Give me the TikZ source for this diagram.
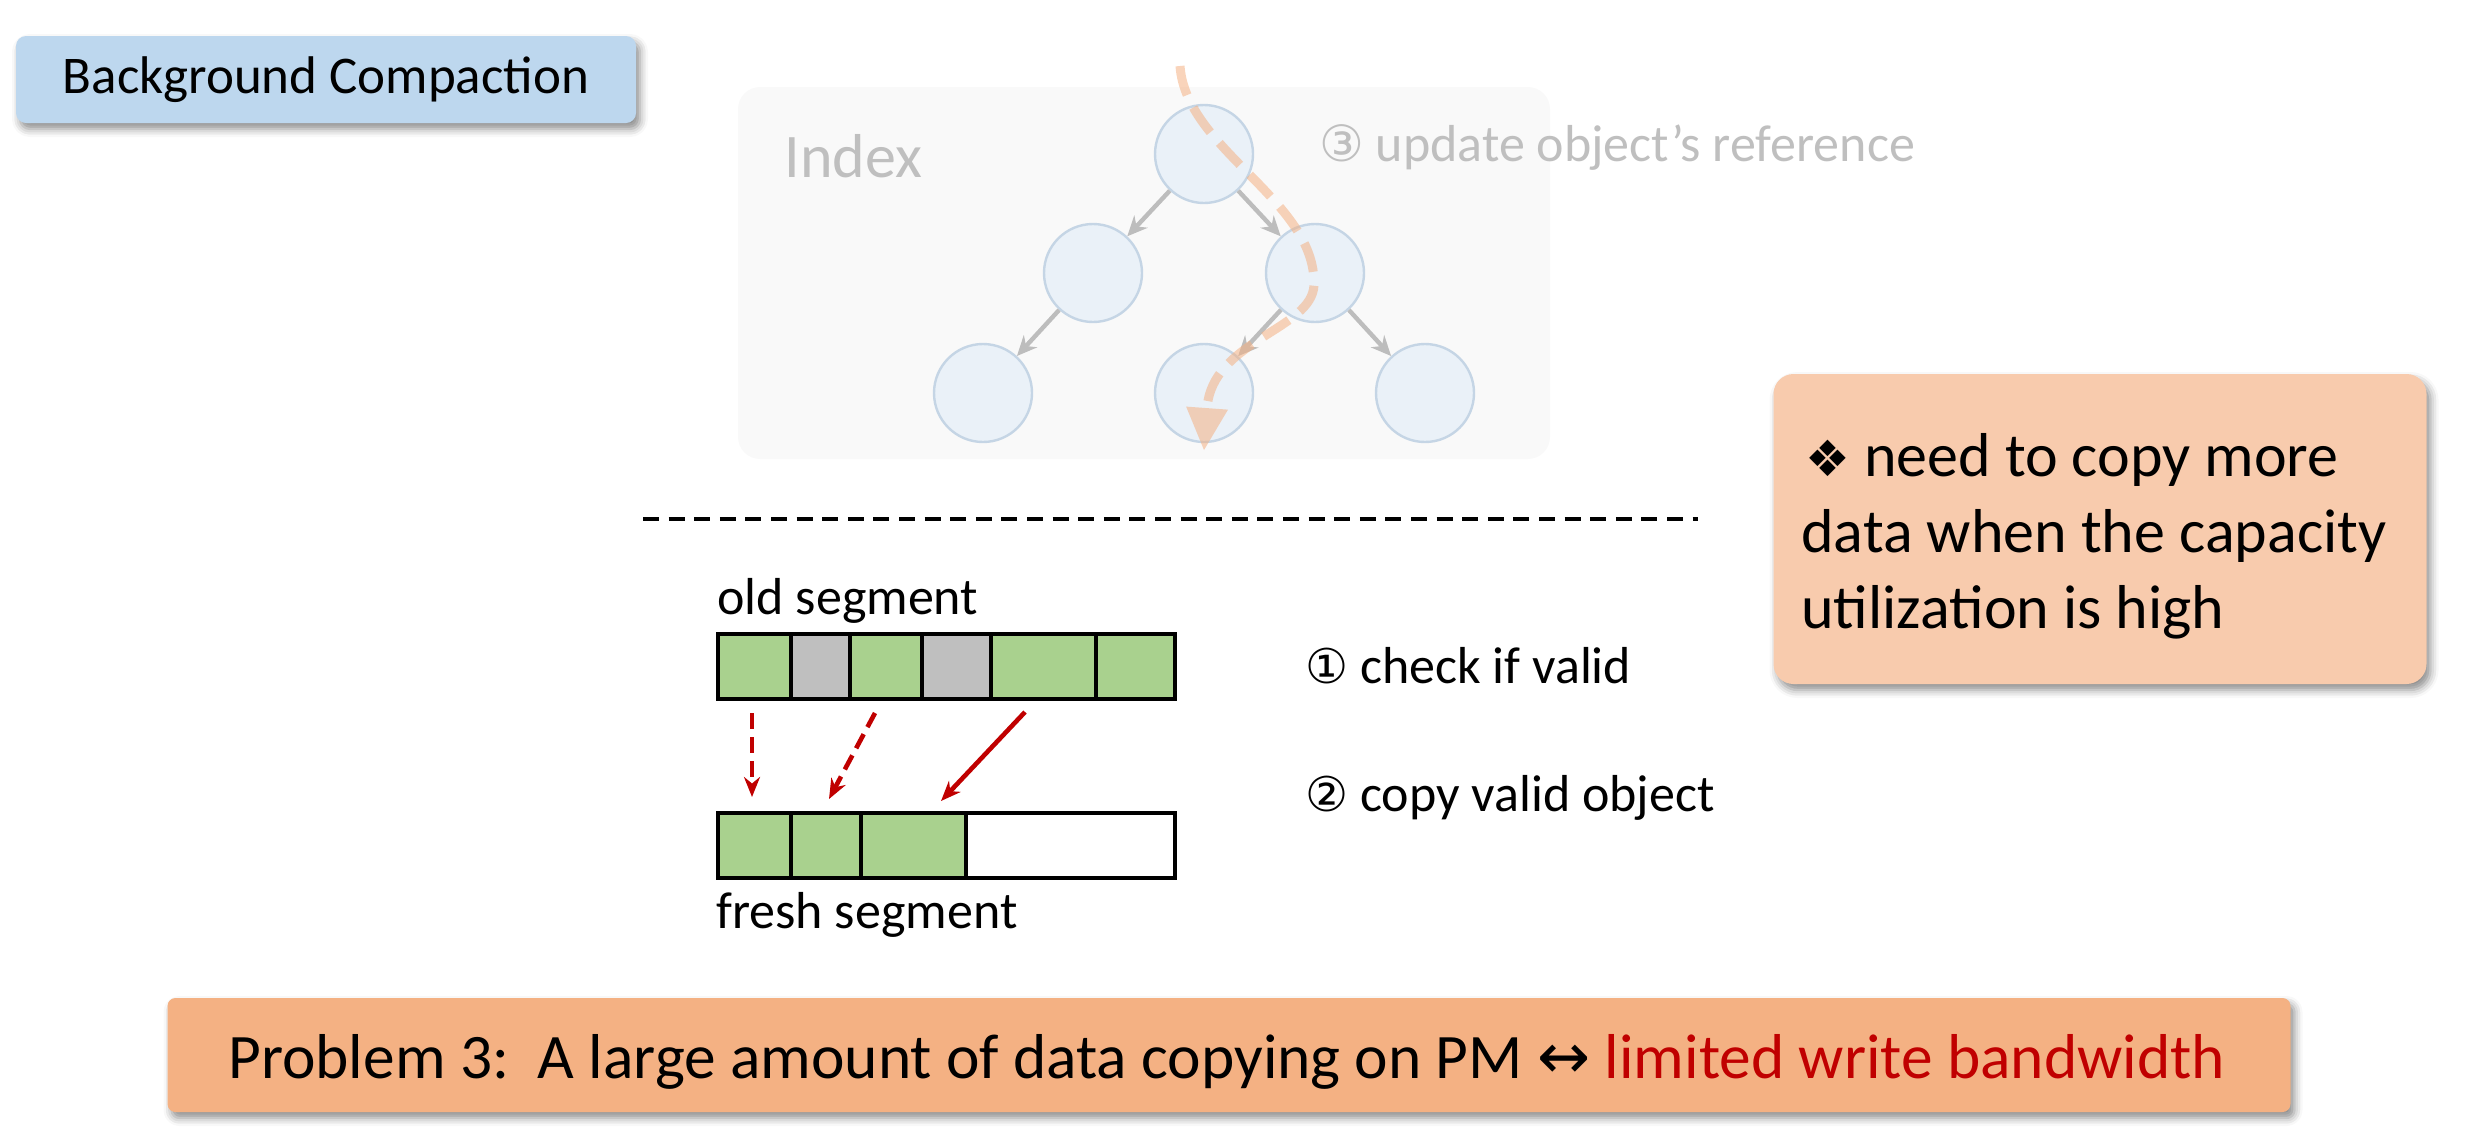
\documentclass[tikz,border=0pt]{standalone}
\usepackage{fontspec}
\setmainfont{Carlito}
\newfontfamily\symfont{DejaVu Sans}
\usetikzlibrary{arrows.meta,shadows.blur}

\definecolor{boxblue}{HTML}{BDD7EE}
\definecolor{boxpeach}{HTML}{F8CBAD}
\definecolor{boxorange}{HTML}{F4B183}
\definecolor{idxbg}{HTML}{F9F9F9}
\definecolor{fadetext}{HTML}{BFBFBF}
\definecolor{nodefill}{HTML}{EAF1F8}
\definecolor{nodeline}{HTML}{C5D5E5}
\definecolor{treegray}{HTML}{BDBDBD}
\definecolor{validgreen}{HTML}{A9D18E}
\definecolor{invalidgray}{HTML}{BFBFBF}
\definecolor{copyred}{HTML}{C00000}
\definecolor{pathorange}{HTML}{F4B183}

\tikzset{
  shadowed/.style={blur shadow={shadow xshift=2pt,shadow yshift=-3pt,shadow blur radius=4pt,shadow opacity=45}},
  treenode/.style={circle,fill=nodefill,draw=nodeline,line width=1.2pt,minimum size=49pt,inner sep=0pt},
  treearr/.style={draw=treegray,line width=2.2pt,-{Stealth[length=10pt,width=9pt]}},
  cell/.style={draw=black,line width=1.8pt,minimum height=32.5pt,inner sep=0pt,anchor=north west},
  redarr/.style={draw=copyred,line width=2.3pt,-{Stealth[length=10pt,width=8pt]}},
  lbl/.style={anchor=base west,inner sep=0pt,font=\fontsize{26pt}{31pt}\selectfont},
}

\begin{document}
\begin{tikzpicture}[x=0.5pt,y=-0.5pt]
\useasboundingbox (0,0) rectangle (2488,1136);

% title tag
\node[shadowed,fill=boxblue,rounded corners=5pt,minimum width=310pt,minimum height=43.5pt,
      font=\fontsize{26.5pt}{31pt}\selectfont] (title) at (326,79.5) {Background Compaction};

% index panel
\node[fill=idxbg,rounded corners=11pt,minimum width=406pt,minimum height=186pt,inner sep=0pt] (idx) at (1144,273) {};
\node[anchor=base west,inner sep=0pt,text=fadetext,font=\fontsize{31pt}{36pt}\selectfont] (idxlabel) at (784,177) {Index};
\node[anchor=base west,inner sep=0pt,text=fadetext,font=\fontsize{26pt}{31pt}\selectfont] (step3) at (1319,161)
  {{\symfont\fontsize{25pt}{28pt}\selectfont ③} update object’s reference};

% tree
\node[treenode] (root) at (1204,154) {};
\node[treenode] (ml) at (1093,273) {};
\node[treenode] (mr) at (1315,273) {};
\node[treenode] (bl) at (983,393) {};
\node[treenode] (bm) at (1204,393) {};
\node[treenode] (br) at (1425,393) {};
\draw[treearr] (root) -- (ml);
\draw[treearr] (root) -- (mr);
\draw[treearr] (ml) -- (bl);
\draw[treearr] (mr) -- (bm);
\draw[treearr] (mr) -- (br);

% lookup path through the index
\coordinate (pstart) at (1180,66);
\coordinate (pturn) at (1314,285);
\coordinate (pend) at (1204,450);
\draw[draw=pathorange,opacity=0.55,line width=4.5pt,dash pattern=on 15pt off 7pt,
      -{Triangle[width=21pt,length=21pt,fill=pathorange,line width=0pt]}]
  (pstart) .. controls (1186,150) and (1316,200) .. (pturn)
           .. controls (1312,330) and (1212,340) .. (pend);

% separator
\coordinate (sepl) at (643,519);
\coordinate (sepr) at (1698,519);
\draw[line width=1.6pt,dash pattern=on 8pt off 4.8pt] (sepl) -- (sepr);

% old segment
\node[lbl] (oldlbl) at (717,614) {old segment};
\node[cell,fill=validgreen,minimum width=36.5pt] (o1) at (716,632) {};
\node[cell,fill=invalidgray,minimum width=29.5pt] (o2) at (789,632) {};
\node[cell,fill=validgreen,minimum width=36pt] (o3) at (848,632) {};
\node[cell,fill=invalidgray,minimum width=34.5pt] (o4) at (920,632) {};
\node[cell,fill=validgreen,minimum width=52.5pt] (o5) at (989,632) {};
\node[cell,fill=validgreen,minimum width=39.5pt] (o6) at (1094,632) {};

% fresh segment
\node[cell,fill=validgreen,minimum width=36.5pt] (f1) at (716,811) {};
\node[cell,fill=validgreen,minimum width=35pt] (f2) at (789,811) {};
\node[cell,fill=validgreen,minimum width=52.5pt] (f3) at (859,811) {};
\node[cell,fill=white,minimum width=104.5pt] (f4) at (964,811) {};
\node[lbl] (freshlbl) at (716,928) {fresh segment};

% copy arrows
\coordinate (c1s) at (752,713);
\coordinate (c1e) at (752,797);
\coordinate (c2s) at (875,713);
\coordinate (c2e) at (829,799);
\coordinate (c3s) at (1025,712);
\coordinate (c3e) at (941,801);
\draw[redarr,dash pattern=on 8pt off 4pt] (c1s) -- (c1e);
\draw[redarr,dash pattern=on 8pt off 4pt] (c2s) -- (c2e);
\draw[redarr] (c3s) -- (c3e);

% steps
\node[lbl] (step1) at (1305,683) {{\symfont\fontsize{24pt}{28pt}\selectfont ①} check if valid};
\node[lbl] (step2) at (1305,811) {{\symfont\fontsize{24pt}{28pt}\selectfont ②} copy valid object};

% note box
\node[shadowed,fill=boxpeach,rounded corners=10pt,minimum width=326.5pt,minimum height=155pt] (note) at (2100,529) {};
\node[anchor=base west,inner sep=0pt,font=\fontsize{31pt}{38pt}\selectfont] (n1) at (1805,476)
  {{\symfont\fontsize{25pt}{30pt}\selectfont ❖} need to copy more};
\node[anchor=base west,inner sep=0pt,font=\fontsize{31pt}{38pt}\selectfont] (n2) at (1801,552) {data when the capacity};
\node[anchor=base west,inner sep=0pt,font=\fontsize{31pt}{38pt}\selectfont] (n3) at (1801,628) {utilization is high};

% problem banner
\node[shadowed,fill=boxorange,rounded corners=4pt,minimum width=1061.5pt,minimum height=57pt] (problem) at (1229,1055) {};
\node[anchor=base west,inner sep=0pt,font=\fontsize{31.7pt}{36pt}\selectfont] (ptext) at (228,1078)
  {Problem 3:\ \ A large amount of data copying on PM {\symfont ↔} \textcolor{copyred}{limited write bandwidth}};
\end{tikzpicture}
\end{document}
